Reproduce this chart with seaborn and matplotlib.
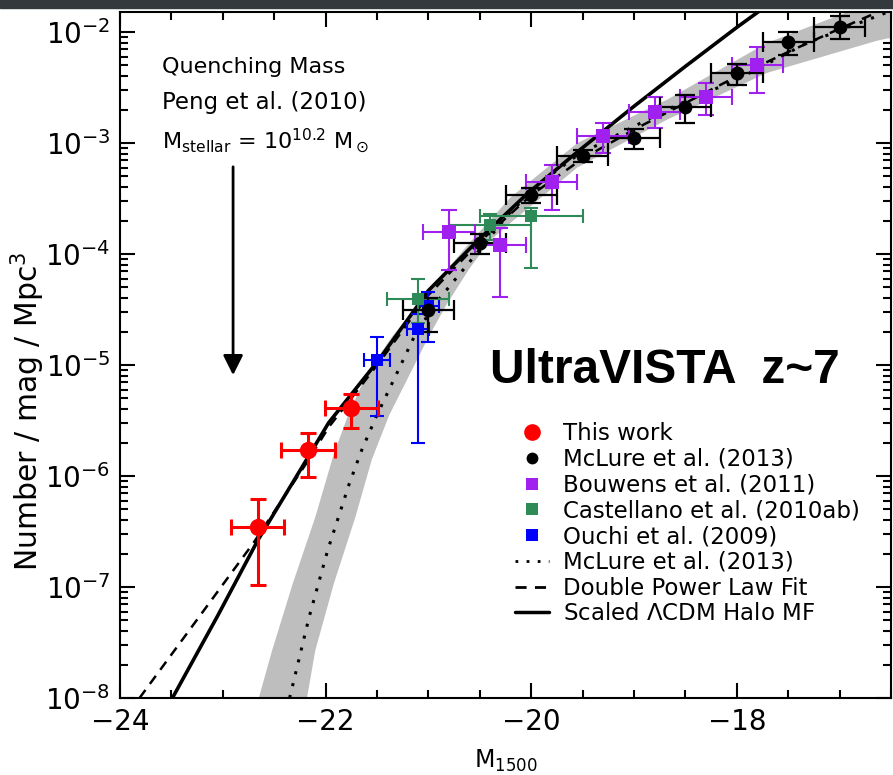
import numpy as np
import matplotlib
matplotlib.use("Agg")
import matplotlib.pyplot as plt
import seaborn as sns
from matplotlib.lines import Line2D
from matplotlib.patches import Rectangle
from matplotlib.ticker import MultipleLocator, LogLocator

# ---- data (M_1500, number / mag / Mpc^3) ----
# This work (red)
this_m = [-22.66, -22.17, -21.75]
this_phi = [3.5e-7, 1.7e-6, 4.1e-6]
this_lo = [1.04e-7, 9.8e-7, 2.7e-6]
this_hi = [6.2e-7, 2.45e-6, 5.5e-6]
this_dm = [0.26, 0.26, 0.26]

# McLure et al. (2013) data (black)
mclure_m = [-21.0, -20.5, -20.0, -19.5, -19.0, -18.5, -18.0, -17.5, -17.0]
mclure_phi = [3.1e-5, 1.26e-4, 3.4e-4, 7.6e-4, 1.1e-3, 2.13e-3, 4.3e-3, 8.1e-3, 1.1e-2]
mclure_lo = [2.0e-5, 1.0e-4, 2.9e-4, 6.7e-4, 8.9e-4, 1.5e-3, 3.3e-3, 6.2e-3, 8.7e-3]
mclure_hi = [4.0e-5, 1.5e-4, 3.9e-4, 8.6e-4, 1.35e-3, 2.7e-3, 5.2e-3, 9.9e-3, 1.39e-2]
mclure_dm = [0.25] * 9

# Bouwens et al. (2011) (purple)
bouwens_m = [-20.8, -20.3, -19.8, -19.3, -18.8, -18.3, -17.8]
bouwens_phi = [1.58e-4, 1.2e-4, 4.45e-4, 1.15e-3, 1.9e-3, 2.6e-3, 5.0e-3]
bouwens_lo = [7.1e-5, 4.1e-5, 2.5e-4, 8.1e-4, 1.37e-3, 1.8e-3, 2.8e-3]
bouwens_hi = [2.5e-4, 1.7e-4, 6.3e-4, 1.5e-3, 2.6e-3, 3.5e-3, 7.3e-3]
bouwens_dm = [0.25] * 7

# Castellano et al. (2010ab) (green)
cast_m = [-21.1, -20.4, -20.0]
cast_phi = [3.9e-5, 1.82e-4, 2.2e-4]
cast_lo = [2.4e-5, 1.35e-4, 7.5e-5]
cast_hi = [5.9e-5, 2.3e-4, 2.6e-4]
cast_dm = [0.3, 0.4, 0.5]

# Ouchi et al. (2009) (blue)
ouchi_m = [-21.5, -21.1, -21.0]
ouchi_phi = [1.12e-5, 2.1e-5, 3.4e-5]
ouchi_lo = [3.5e-6, 2.0e-6, 1.6e-5]
ouchi_hi = [1.8e-5, 2.9e-5, 4.5e-5]
ouchi_dm = [0.13, 0.11, 0.1]

# McLure et al. (2013) Schechter fit (dotted) and its uncertainty band
schechter_m = [-22.35, -22.16, -21.98, -21.77, -21.65, -21.51, -21.32, -21.12, -20.90, -20.58,
               -20.2, -19.87, -19.55, -19.0, -18.68, -18.0, -17.32, -16.67, -16.5]
schechter_phi = [1.0e-8, 5.37e-8, 2.14e-7, 8.51e-7, 1.70e-6, 3.39e-6, 7.94e-6, 1.95e-5, 3.89e-5, 8.91e-5,
                 2.40e-4, 4.68e-4, 7.76e-4, 1.41e-3, 2.00e-3, 3.72e-3, 7.94e-3, 1.35e-2, 1.55e-2]
band_up_m = [-22.68, -22.52, -22.32, -22.10, -21.92, -21.78, -21.60, -21.35, -21.05, -20.80,
             -20.58, -20.2, -19.55, -18.68, -17.71, -16.87, -16.4]
band_up_phi = [7.94e-9, 2.69e-8, 1.07e-7, 4.27e-7, 1.58e-6, 3.55e-6, 8.32e-6, 1.82e-5, 3.98e-5, 7.59e-5,
               1.32e-4, 3.24e-4, 1.0e-3, 2.45e-3, 7.94e-3, 1.58e-2, 2.24e-2]
band_lo_m = [-22.20, -22.10, -21.92, -21.71, -21.55, -21.38, -21.19, -21.0, -20.82, -20.60,
             -20.40, -20.2, -19.55, -18.68, -17.71, -16.64, -16.4]
band_lo_phi = [7.94e-9, 2.69e-8, 1.07e-7, 4.27e-7, 1.41e-6, 3.55e-6, 7.94e-6, 1.78e-5, 3.55e-5, 7.41e-5,
               1.32e-4, 1.91e-4, 6.03e-4, 1.62e-3, 4.27e-3, 8.32e-3, 9.33e-3]

# Double power law fit (dashed)
dpl_m = [-23.81, -22.70, -22.19, -21.97, -21.48, -21.0, -20.5, -20.0, -19.5, -19.0,
         -18.5, -18.0, -17.5, -17.0, -16.5]
dpl_phi = [1.0e-8, 2.51e-7, 1.29e-6, 2.75e-6, 1.05e-5, 4.27e-5, 1.29e-4, 3.39e-4, 7.24e-4, 1.32e-3,
           2.29e-3, 3.98e-3, 6.61e-3, 1.07e-2, 1.70e-2]

# Scaled LCDM halo mass function (solid)
halo_m = [-23.49, -23.05, -22.66, -22.19, -21.97, -21.48, -21.0, -20.51, -20.03, -19.55,
          -19.0, -18.5, -18.0, -17.6]
halo_phi = [1.0e-8, 5.5e-8, 2.63e-7, 1.38e-6, 3.02e-6, 1.12e-5, 4.68e-5, 1.35e-4, 3.55e-4, 8.32e-4,
            2.14e-3, 4.90e-3, 1.10e-2, 2.04e-2]

RED = "#ff0000"
PURPLE = "#a020f0"
GREEN = "#2e8b57"
BLUE = "#0000ff"

sns.set_theme(style="ticks")
plt.rcParams["font.family"] = ["DejaVu Sans"]
plt.rcParams["mathtext.fontset"] = "dejavusans"
plt.rcParams["axes.linewidth"] = 1.5
for key in ["text.color", "axes.labelcolor", "xtick.color", "ytick.color", "axes.edgecolor"]:
    plt.rcParams[key] = "black"

fig = plt.figure(figsize=(8.93, 7.75), dpi=100)
fig.patch.set_facecolor("white")
fig.patches.append(Rectangle((0, 1 - 8 / 775), 1, 8 / 775, transform=fig.transFigure,
                             color="#34393d", zorder=-1))
ax = fig.add_axes([120 / 893, 77 / 775, 771 / 893, 686 / 775])
ax.set_yscale("log")

# uncertainty band of the Schechter fit
ax.fill(band_up_m + band_lo_m[::-1], band_up_phi + band_lo_phi[::-1],
        color="#bebebe", lw=0, zorder=1)

sns.lineplot(x=schechter_m, y=schechter_phi, ax=ax, color="black", lw=2.2,
             linestyle=(0, (1, 3)), sort=False, estimator=None, zorder=2)
sns.lineplot(x=dpl_m, y=dpl_phi, ax=ax, color="black", lw=1.8,
             linestyle=(0, (4, 3)), sort=False, estimator=None, zorder=2)
sns.lineplot(x=halo_m, y=halo_phi, ax=ax, color="black", lw=2.6,
             sort=False, estimator=None, zorder=2)


def draw_points(m, phi, lo, hi, dm, color, marker, ms, lw, cap):
    phi_a = np.array(phi)
    yerr = [phi_a - np.array(lo), np.array(hi) - phi_a]
    ax.errorbar(m, phi, xerr=dm, yerr=yerr, fmt="none", ecolor=color,
                elinewidth=lw, capsize=cap, capthick=lw, zorder=3)
    sns.scatterplot(x=m, y=phi, ax=ax, color=color, marker=marker, s=ms ** 2,
                    linewidth=0, zorder=4, legend=False)


draw_points(ouchi_m, ouchi_phi, ouchi_lo, ouchi_hi, ouchi_dm, BLUE, "s", 8.5, 1.5, 5)
draw_points(cast_m, cast_phi, cast_lo, cast_hi, cast_dm, GREEN, "s", 9, 1.5, 5)
draw_points(bouwens_m, bouwens_phi, bouwens_lo, bouwens_hi, bouwens_dm, PURPLE, "s", 9.5, 1.5, 6)
draw_points(mclure_m, mclure_phi, mclure_lo, mclure_hi, mclure_dm, "black", "o", 10, 1.6, 7)
draw_points(this_m, this_phi, this_lo, this_hi, this_dm, RED, "o", 12.5, 2.2, 6)

# quenching mass arrow
ax.annotate("", xy=(-22.9, 8.1e-6), xytext=(-22.9, 6.1e-4),
            arrowprops=dict(arrowstyle="-|>,head_length=0.6,head_width=0.3",
                            lw=2, color="black", mutation_scale=20,
                            shrinkA=0, shrinkB=0))

ax.text(0.055, 0.911, "Quenching Mass", transform=ax.transAxes, fontsize=16,
        va="baseline", color="black")
ax.text(0.055, 0.859, "Peng et al. (2010)", transform=ax.transAxes, fontsize=16.5,
        va="baseline", color="black")
ax.text(0.055, 0.801, r"M$_{\rm stellar}$ = 10$^{10.2}$ M$_\odot$", transform=ax.transAxes,
        fontsize=16, va="baseline", color="black")
ax.text(0.480, 0.459, "UltraVISTA  z~7", transform=ax.transAxes, fontsize=34.5,
        fontweight="bold", family=["Liberation Sans", "DejaVu Sans"], va="baseline",
        color="black")

ax.set_xlim(-24, -16.5)
ax.set_ylim(1e-8, 10 ** -1.82)
ax.xaxis.set_major_locator(MultipleLocator(2))
ax.xaxis.set_minor_locator(MultipleLocator(0.5))
ax.yaxis.set_major_locator(LogLocator(base=10, numticks=20))
ax.yaxis.set_minor_locator(LogLocator(base=10, subs=np.arange(2, 10), numticks=20))
ax.tick_params(which="both", direction="in", top=True, right=True, width=1.5,
               labelsize=20, pad=7, colors="black")
ax.tick_params(which="major", length=11)
ax.tick_params(which="minor", length=6)
for sp in ax.spines.values():
    sp.set_color("black")
    sp.set_linewidth(1.5)

ax.set_xlabel(r"M$_{1500}$", fontsize=17, color="black")
ax.xaxis.set_label_coords(0.5, -0.073)
ax.set_ylabel(r"Number / mag / Mpc$^3$", fontsize=21.5, color="black")
ax.yaxis.set_label_coords(-0.095, 0.418)

handles = [
    Line2D([], [], ls="none", marker="o", color=RED, ms=12, mew=0),
    Line2D([], [], ls="none", marker="o", color="black", ms=8.5, mew=0),
    Line2D([], [], ls="none", marker="s", color=PURPLE, ms=8, mew=0),
    Line2D([], [], ls="none", marker="s", color=GREEN, ms=8, mew=0),
    Line2D([], [], ls="none", marker="s", color=BLUE, ms=8, mew=0),
    Line2D([], [], color="black", ls=(0, (1, 3)), lw=2),
    Line2D([], [], color="black", ls=(0, (4, 3)), lw=2),
    Line2D([], [], color="black", lw=2.5),
]
labels = ["This work", "McLure et al. (2013)", "Bouwens et al. (2011)",
          "Castellano et al. (2010ab)", "Ouchi et al. (2009)", "McLure et al. (2013)",
          "Double Power Law Fit", r"Scaled $\Lambda$CDM Halo MF"]
leg = ax.legend(handles, labels, loc="upper left", bbox_to_anchor=(0.512, 0.402), frameon=False,
                fontsize=16.5, handlelength=1.5, handletextpad=0.6, labelspacing=0.12,
                borderpad=0, borderaxespad=0)
for t in leg.get_texts():
    t.set_color("black")

fig.savefig("out.png", dpi=100)
